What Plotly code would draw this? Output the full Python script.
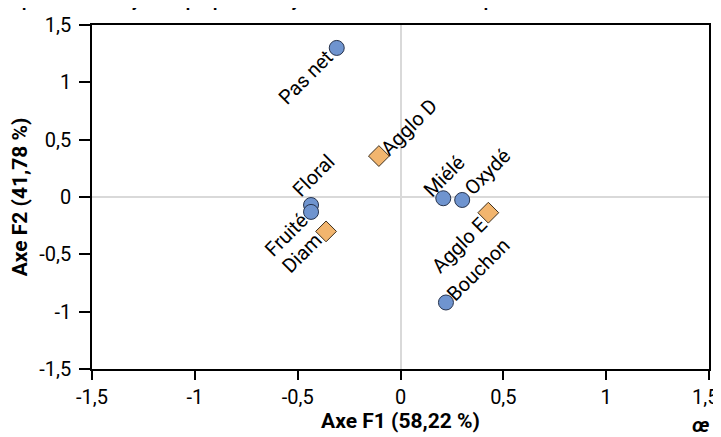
import plotly.graph_objects as go

# --- data ---
var_names = ["Pas net", "Floral", "Fruité", "Miélé", "Oxydé", "Bouchon"]
var_f1 = [-0.31, -0.435, -0.435, 0.208, 0.30, 0.221]
var_f2 = [1.30, -0.07, -0.13, -0.011, -0.026, -0.92]

obs_names = ["Agglo D", "Diam", "Agglo E"]
obs_f1 = [-0.105, -0.362, 0.427]
obs_f2 = [0.357, -0.30, -0.137]

tick_vals = [-1.5, -1, -0.5, 0, 0.5, 1, 1.5]
tick_text = ["-1,5", "-1", "-0,5", "0", "0,5", "1", "1,5"]

x_title = "Axe F1 (58,22 %)"
y_title = "Axe F2 (41,78 %)"
chart_title = "Représentation symétrique pour l'analyse factorielle des correspondances"

# label offsets (pixels, x right / y up) relative to the marker
label_offsets = {
    "Pas net": (-31, -29), "Floral": (2, 29), "Fruité": (-25, -23),
    "Miélé": (1, 22), "Oxydé": (25, 28), "Bouchon": (33, 33),
    "Agglo D": (30, 29), "Diam": (-24, -22), "Agglo E": (-29, -32),
}

fig = go.Figure()
fig.add_trace(go.Scatter(
    x=var_f1, y=var_f2, mode="markers", name="Variables",
    marker=dict(symbol="circle", size=15, color="#6f94cf",
                line=dict(color="#26334d", width=1)),
))
fig.add_trace(go.Scatter(
    x=obs_f1, y=obs_f2, mode="markers", name="Observations",
    marker=dict(symbol="diamond", size=16, color="#f2b56e",
                line=dict(color="#3d2f1d", width=1)),
))

font_family = "Roboto, Arial, sans-serif"
for names, xs, ys in [(var_names, var_f1, var_f2), (obs_names, obs_f1, obs_f2)]:
    for n, x, y in zip(names, xs, ys):
        dx, dy = label_offsets[n]
        fig.add_annotation(
            x=x, y=y, text=n, showarrow=False, textangle=-45,
            xanchor="center", yanchor="middle", xshift=dx, yshift=dy,
            font=dict(family=font_family, size=20, color="#000000"),
        )

PW, PH = 617, 344  # plot area size in pixels

# title (cut off at the top in the reference)
fig.add_annotation(
    xref="paper", yref="paper", x=-92 / PW, y=1 + 24 / PH,
    text="<b>" + chart_title + "</b>", showarrow=False,
    xanchor="left", yanchor="middle",
    font=dict(family=font_family, size=17, color="#000000"),
)

fig.add_annotation(
    xref="paper", yref="paper", x=1 + 3 / PW, y=-56 / PH, text="<b><i>œ</i></b>",
    showarrow=False, xanchor="right", yanchor="middle",
    font=dict(family=font_family, size=20, color="#000000"),
)

# last x tick label is nudged inward (as in the reference) so it stays visible
x_tick_text = tick_text[:-1] + [""]
fig.add_annotation(
    x=tick_vals[-1], xref="x", yref="paper", y=0, text=tick_text[-1],
    showarrow=False, xanchor="center", yanchor="middle", xshift=-4, yshift=-28,
    font=dict(family=font_family, size=20, color="#000000"),
)

axis_common = dict(
    range=[-1.5, 1.5], tickvals=tick_vals, automargin=False,
    showgrid=False, zeroline=True, zerolinecolor="#d9d9d9", zerolinewidth=1.5,
    showline=True, linecolor="#000000", linewidth=1.5, mirror=True,
    ticks="outside", tickcolor="#000000", tickwidth=1.5,
    ticklabeloverflow="allow",
    tickfont=dict(family=font_family, size=20, color="#000000"),
)

fig.update_layout(
    width=713, height=429,
    margin=dict(l=84, r=12, t=17, b=68, autoexpand=False),
    paper_bgcolor="white", plot_bgcolor="white",
    showlegend=False,
    xaxis=dict(axis_common, ticktext=x_tick_text, ticklen=9,
               title=dict(text="<b>" + x_title + "</b>", standoff=5,
               font=dict(family=font_family, size=21, color="#000000"))),
    yaxis=dict(axis_common, ticktext=tick_text, ticklen=11, ticklabelstandoff=4,
               title=dict(text="<b>" + y_title + "</b>", standoff=12,
               font=dict(family=font_family, size=21, color="#000000"))),
)

fig.write_html("out.html")
